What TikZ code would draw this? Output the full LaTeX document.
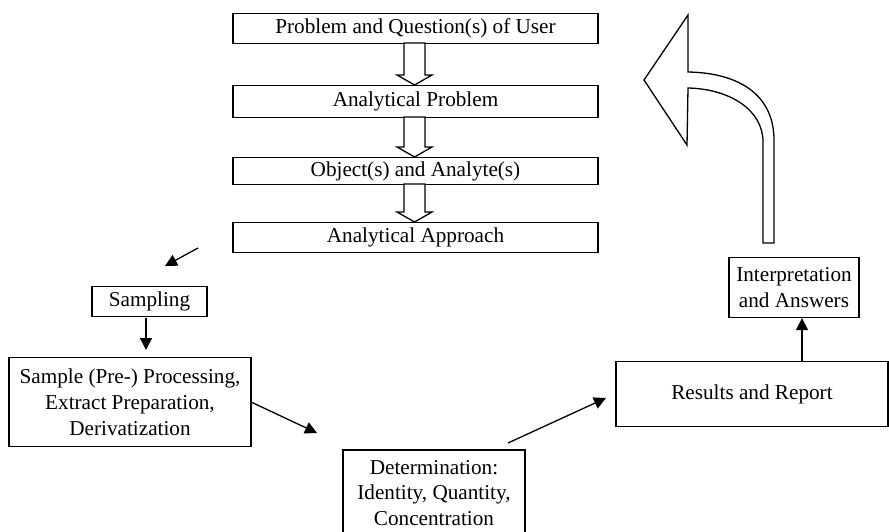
\documentclass[tikz,border=0pt]{standalone}
\usepackage{fontspec}
\setmainfont{Liberation Serif}
\usetikzlibrary{arrows.meta}
\begin{document}
\begin{tikzpicture}[x=1pt,y=-1pt,
  box/.style={draw=black,line width=1.3pt,inner sep=0pt,align=center,
    font=\fontsize{21.2}{26}\selectfont},
  txt/.style={inner sep=0pt,align=center,font=\fontsize{21.2}{25.5}\selectfont},
  conn/.style={line width=1.3pt,-{Triangle[length=12pt,width=12pt]}},
  hollow/.style={draw=black,line width=1.3pt,fill=white,line join=miter}]
\useasboundingbox (0,0) rectangle (889,532);
\fill[white] (0,0) rectangle (889,532);
% top chain
\node[box,minimum width=365pt,minimum height=30pt] (b1) at (415.5,28.5) {Problem and Question(s) of User};
\node[box,minimum width=365pt,minimum height=32pt] (b2) at (415.5,101.5) {Analytical Problem};
\node[box,minimum width=365pt,minimum height=27pt] (b3) at (415.5,171) {Object(s) and Analyte(s)};
\node[box,minimum width=365pt,minimum height=30pt] (b4) at (415.5,237.5) {Analytical Approach};
% hollow arrows between top boxes
\draw[hollow] (404,43) -- (425,43) -- (425,75) -- (432,75) -- (414.5,85) -- (397,75) -- (404,75) -- cycle;
\draw[hollow] (404,117) -- (425,117) -- (425,147) -- (432,147) -- (414.5,157) -- (397,147) -- (404,147) -- cycle;
\draw[hollow] (404,184) -- (425,184) -- (425,212) -- (432,212) -- (414.5,222) -- (397,212) -- (404,212) -- cycle;
% lower boxes
\node[box,minimum width=115pt,minimum height=30pt] (samp) at (149.5,301.5) {Sampling};
\node[box,minimum width=242pt,minimum height=89pt] (proc) at (130,402) {Sample (Pre-) Processing,\\Extract Preparation,\\Derivatization};
\node[txt] (det) at (434,493) {Determination:\\Identity, Quantity,\\Concentration};
\draw[line width=1.3pt] (343,533) -- (343,450) -- (525,450) -- (525,533);
\node[box,minimum width=272pt,minimum height=65pt] (res) at (752,394) {Results and Report};
\node[box,minimum width=130pt,minimum height=60pt] (interp) at (794,287.5) {Interpretation\\and Answers};
% connectors
\coordinate (a1s) at (198,248);
\coordinate (a1e) at (165,266);
\draw[conn] (a1s) -- (a1e);
\coordinate (a2s) at (146,318);
\coordinate (a2e) at (146,350);
\draw[conn] (a2s) -- (a2e);
\coordinate (a3s) at (251,402);
\coordinate (a3e) at (317,433);
\draw[conn] (a3s) -- (a3e);
\coordinate (a4s) at (508,443);
\coordinate (a4e) at (606,398);
\draw[conn] (a4s) -- (a4e);
\draw[conn] (res.north -| 802,0) -- (interp.south -| 802,0);
% big curved hollow arrow
\draw[hollow] (763,243) -- (774,243) -- (774,140)
  .. controls (774,97) and (742,73) .. (688,72)
  -- (688,15) -- (644,80) -- (687,145) -- (688,88)
  .. controls (730,89) and (763,110) .. (763,142) -- cycle;
\end{tikzpicture}
\end{document}
